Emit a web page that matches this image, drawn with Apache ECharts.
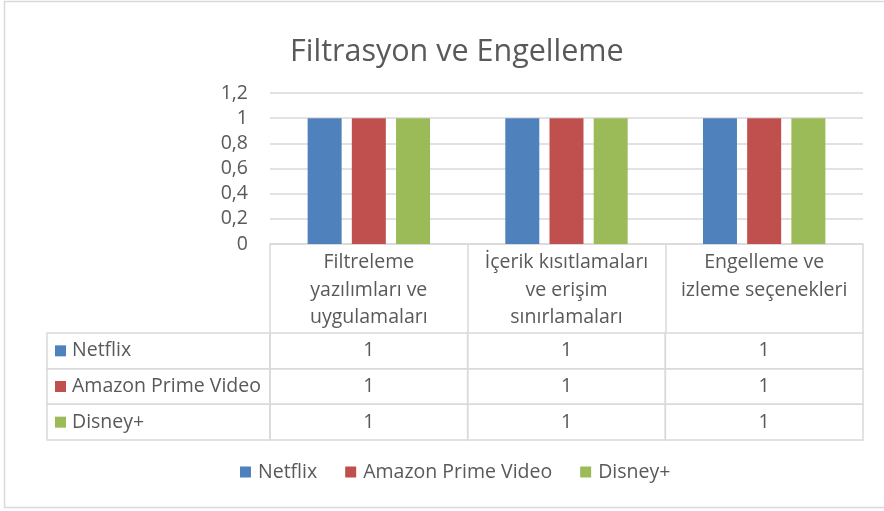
<!DOCTYPE html>
<html>
<head>
<meta charset="utf-8">
<script src="https://cdn.jsdelivr.net/npm/echarts@6/dist/echarts.min.js"></script>
<style>
  html, body { margin: 0; padding: 0; background: #fff; }
  #chart { width: 884px; height: 511px; }
</style>
</head>
<body>
<div id="chart"></div>
<script>
// ======================
// DATA
// ======================
const categories = [
    'Filtreleme\nyazılımları ve\nuygulamaları',
    'İçerik kısıtlamaları\nve erişim\nsınırlamaları',
    'Engelleme ve\nizleme seçenekleri'
];
const seriesNames = ['Netflix', 'Amazon Prime Video', 'Disney+'];
const netflix = [1, 1, 1];
const amazonPrime = [1, 1, 1];
const disneyPlus = [1, 1, 1];
const yTicks = [0, 0.2, 0.4, 0.6, 0.8, 1, 1.2];

const seriesValues = [netflix, amazonPrime, disneyPlus];
const colors = ['#4f81bd', '#c0504d', '#9bbb59'];

// ======================
// STYLE
// ======================
const FONT = '"Open Sans", sans-serif';
const FONT_SIZE = 19.5;
const TEXT_COLOR = '#595959';
const LINE_COLOR = '#d9d9d9';
const NAME_COL_W = 223;

// table cells: [categoryIndex, seriesIndex, value]
const valueCells = [];
seriesValues.forEach((vals, j) => vals.forEach((v, i) => valueCells.push([i, j, v])));
const nameCells = seriesNames.map((n, j) => [0, j, n]);

function renderValueCell(params, api) {
    const c = api.coord([api.value(0), api.value(1)]);
    const s = api.size([1, 1]);
    return {
        type: 'group',
        children: [
            {
                type: 'rect',
                shape: { x: c[0] - s[0] / 2, y: c[1] - s[1] / 2, width: s[0], height: s[1] },
                style: { fill: 'none', stroke: LINE_COLOR, lineWidth: 1.5 }
            },
            {
                type: 'text',
                x: c[0], y: c[1],
                style: {
                    text: String(api.value(2)), fill: TEXT_COLOR,
                    font: FONT_SIZE + 'px ' + FONT, align: 'center', verticalAlign: 'middle'
                }
            }
        ]
    };
}

function renderNameCell(params, api) {
    const j = api.value(1);
    const c = api.coord([0, j]);
    const s = api.size([1, 1]);
    const left = c[0] - s[0] / 2 - NAME_COL_W;
    return {
        type: 'group',
        children: [
            {
                type: 'rect',
                shape: { x: left, y: c[1] - s[1] / 2, width: NAME_COL_W, height: s[1] },
                style: { fill: 'none', stroke: LINE_COLOR, lineWidth: 1.5 }
            },
            {
                type: 'rect',
                shape: { x: left + 8, y: c[1] - 5.5, width: 11, height: 11 },
                style: { fill: colors[j] }
            },
            {
                type: 'text',
                x: left + 25, y: c[1],
                style: {
                    text: seriesNames[j], fill: TEXT_COLOR,
                    font: FONT_SIZE + 'px ' + FONT, align: 'left', verticalAlign: 'middle'
                }
            }
        ]
    };
}

function headerLabel(v) {
    const lines = v.split('\n');
    const key = lines.length < 3 ? 'b' : 'a';
    return lines.map(l => '{' + key + '|' + l + '}').join('\n');
}

const chart = echarts.init(document.getElementById('chart'));

const option = {
    animation: false,
    backgroundColor: '#fff',
    title: {
        text: 'Filtrasyon ve Engelleme',
        left: 285,
        top: 32,
        textStyle: { fontFamily: FONT, fontSize: 30.5, fontWeight: 'normal', color: TEXT_COLOR }
    },
    graphic: [{
        type: 'rect',
        shape: { x: 4.5, y: 1.5, width: 1000, height: 506 },
        style: { fill: 'none', stroke: LINE_COLOR, lineWidth: 1.5 },
        silent: true
    }],
    legend: {
        data: seriesNames,
        bottom: 24,
        left: 235,
        icon: 'rect',
        itemWidth: 11,
        itemHeight: 11,
        itemGap: 28,
        textStyle: { fontFamily: FONT, fontSize: FONT_SIZE, color: TEXT_COLOR, padding: [0, 0, 0, 2] }
    },
    grid: [
        { left: 270, right: 21, top: 93, height: 151 },
        { left: 270, right: 21, top: 333, height: 107 }
    ],
    xAxis: [
        {
            type: 'category',
            gridIndex: 0,
            data: categories,
            axisLine: { lineStyle: { color: LINE_COLOR, width: 1.5 } },
            axisTick: { show: true, length: 89, lineStyle: { color: LINE_COLOR, width: 1.5 } },
            axisLabel: {
                interval: 0,
                margin: 5,
                formatter: headerLabel,
                rich: {
                    a: { fontFamily: FONT, fontSize: FONT_SIZE, color: TEXT_COLOR, lineHeight: 27.5, align: 'center' },
                    b: { fontFamily: FONT, fontSize: FONT_SIZE, color: TEXT_COLOR, lineHeight: 27.5, align: 'center', padding: [7, 0, 7, 0] }
                }
            }
        },
        {
            type: 'category',
            gridIndex: 1,
            data: categories,
            show: false
        }
    ],
    yAxis: [
        {
            type: 'value',
            gridIndex: 0,
            min: 0,
            max: 1.2,
            interval: 0.2,
            axisLine: { show: false },
            axisTick: { show: false },
            axisLabel: {
                margin: 22,
                fontFamily: FONT,
                fontSize: FONT_SIZE,
                color: TEXT_COLOR,
                formatter: v => yTicks.includes(+v.toFixed(1)) ? String(+v.toFixed(1)).replace('.', ',') : ''
            },
            splitLine: { lineStyle: { color: LINE_COLOR, width: 1.5 } }
        },
        {
            type: 'category',
            gridIndex: 1,
            data: seriesNames,
            inverse: true,
            show: false
        }
    ],
    series: [
        ...seriesNames.map((name, j) => ({
            name: name,
            type: 'bar',
            xAxisIndex: 0,
            yAxisIndex: 0,
            data: seriesValues[j],
            barWidth: 34,
            barGap: '30%',
            itemStyle: { color: colors[j] }
        })),
        {
            name: 'tableValues',
            type: 'custom',
            xAxisIndex: 1,
            yAxisIndex: 1,
            data: valueCells,
            renderItem: renderValueCell,
            silent: true
        },
        {
            name: 'tableNames',
            type: 'custom',
            xAxisIndex: 1,
            yAxisIndex: 1,
            data: nameCells,
            dimensions: ['x', 'y', { name: 'label', type: 'ordinal' }],
            renderItem: renderNameCell,
            silent: true
        }
    ]
};

chart.setOption(option);
</script>
</body>
</html>
